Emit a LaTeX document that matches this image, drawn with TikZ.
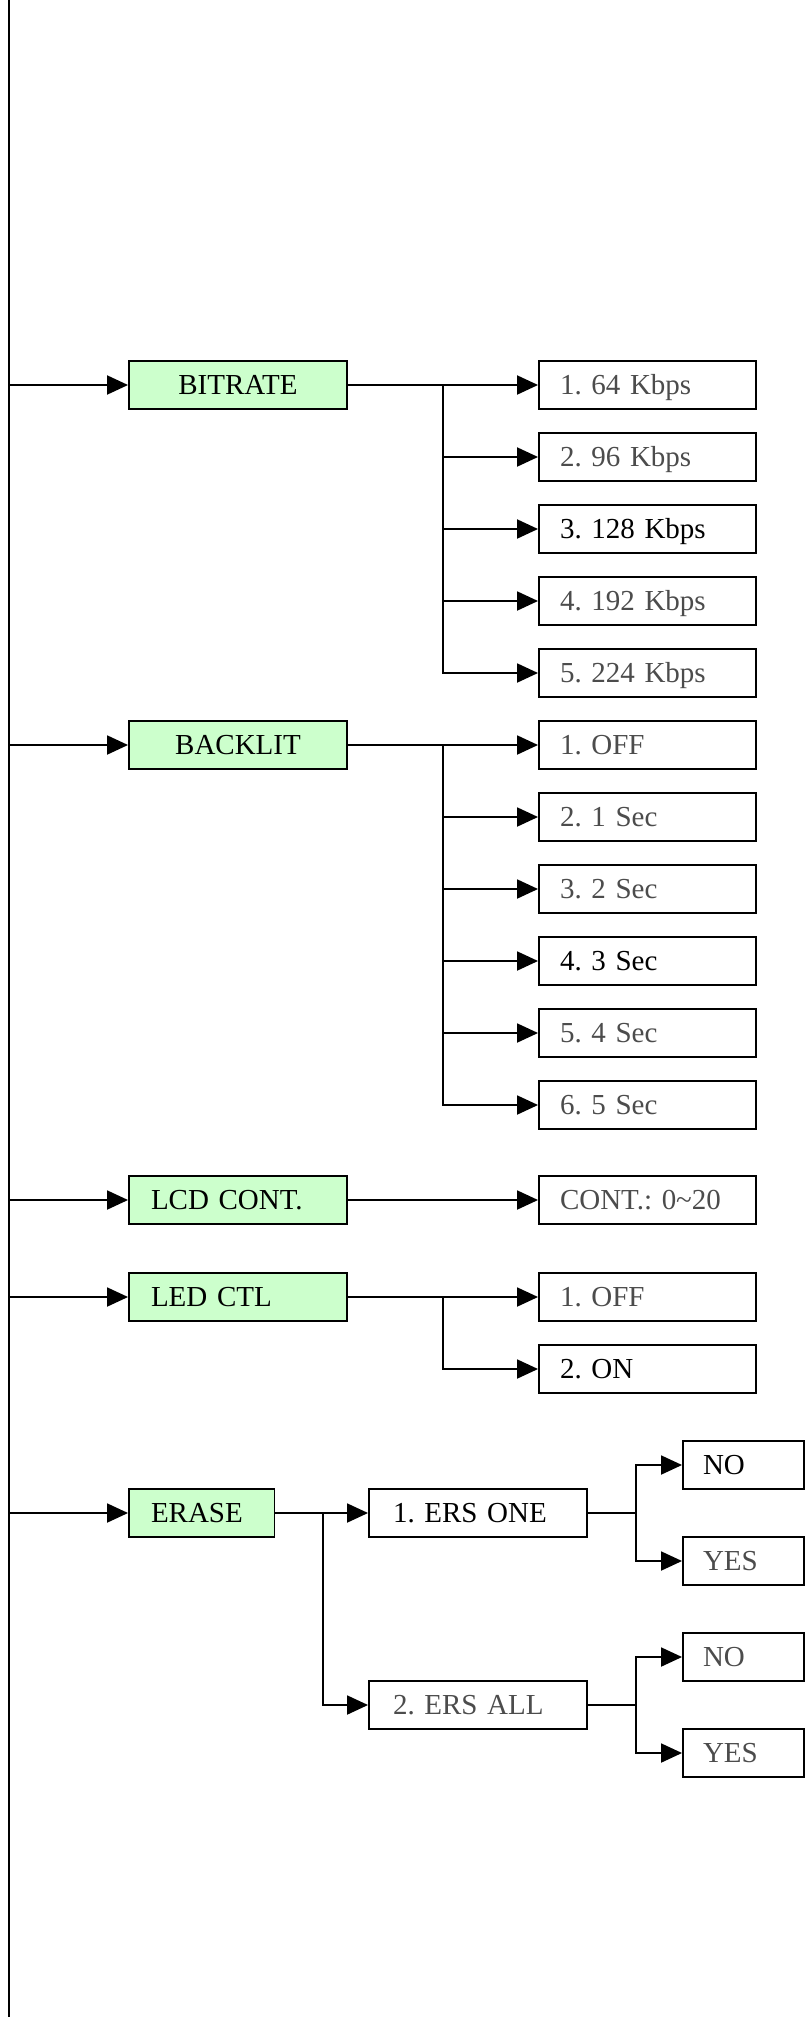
\documentclass[tikz,border=0pt]{standalone}
\usepackage{fontspec}
\setmainfont{Liberation Serif}
\usetikzlibrary{arrows.meta, positioning}
\definecolor{menugreen}{HTML}{CCFFCC}
\frenchspacing

\begin{document}
\begin{tikzpicture}[
  menu/.style={draw, fill=menugreen, line width=1.1pt, minimum height=0.96cm, inner xsep=0.44cm, text width=3.48cm, text height=10.9pt, text depth=0pt, align=left, font=\fontsize{16.5}{18}\selectfont},
  opt/.style={draw, line width=1.1pt, minimum height=0.96cm, inner xsep=0.42cm, text width=3.5cm, text height=10.9pt, text depth=0pt, align=left, text=black!70, font=\fontsize{16.5}{18}\selectfont},
  sel/.style={opt, text=black},
  ers/.style={opt, inner xsep=0.48cm, text width=3.4cm},
  yn/.style={opt, inner xsep=0.4cm, text width=1.62cm},
  wire/.style={line width=1.1pt},
  arr/.style={-{Triangle[length=0.42cm, width=0.38cm]}, line width=1.1pt},
]
\useasboundingbox (0,0) rectangle (16.22,-40.44);

\coordinate (spine) at (0.18,0);
\coordinate (spineend) at (0.18,-40.34);
\draw[wire] (spine) -- (spineend);

\node[menu, align=center] (bitrate) at (4.76,-7.70) {BITRATE};
\node[opt] (bps1) at (12.95,-7.70) {1. 64 Kbps};
\node[opt] (bps2) at (12.95,-9.14) {2. 96 Kbps};
\node[sel] (bps3) at (12.95,-10.58) {3. 128 Kbps};
\node[opt] (bps4) at (12.95,-12.02) {4. 192 Kbps};
\node[opt] (bps5) at (12.95,-13.46) {5. 224 Kbps};

\node[menu, align=center] (backlit) at (4.76,-14.90) {BACKLIT};
\node[opt] (bl1) at (12.95,-14.90) {1. OFF};
\node[opt] (bl2) at (12.95,-16.34) {2. 1 Sec};
\node[opt] (bl3) at (12.95,-17.78) {3. 2 Sec};
\node[sel] (bl4) at (12.95,-19.22) {4. 3 Sec};
\node[opt] (bl5) at (12.95,-20.66) {5. 4 Sec};
\node[opt] (bl6) at (12.95,-22.10) {6. 5 Sec};

\node[menu] (lcd) at (4.76,-24.00) {LCD CONT.};
\node[opt] (cont) at (12.95,-24.00) {CONT.: 0\textasciitilde20};

\node[menu] (led) at (4.76,-25.94) {LED CTL};
\node[opt] (ledoff) at (12.95,-25.94) {1. OFF};
\node[sel] (ledon) at (12.95,-27.38) {2. ON};

\node[menu, text width=2.03cm] (erase) at (4.035,-30.26) {ERASE};
\node[ers, text=black] (ersone) at (9.56,-30.26) {1. ERS ONE};
\node[ers] (ersall) at (9.56,-34.10) {2. ERS ALL};
\node[yn, text=black] (no1) at (14.87,-29.30) {NO};
\node[yn] (yes1) at (14.87,-31.22) {YES};
\node[yn] (no2) at (14.87,-33.14) {NO};
\node[yn] (yes2) at (14.87,-35.06) {YES};

\foreach \m in {bitrate, backlit, lcd, led, erase}
  \draw[arr] (spine |- \m) -- (\m);

\coordinate (jbps) at (8.86,-7.70);
\draw[arr] (bitrate) -- (bps1);
\foreach \s in {bps2, bps3, bps4, bps5}
  \draw[arr] (jbps) |- (\s);

\coordinate (jbl) at (8.86,-14.90);
\draw[arr] (backlit) -- (bl1);
\foreach \s in {bl2, bl3, bl4, bl5, bl6}
  \draw[arr] (jbl) |- (\s);

\draw[arr] (lcd) -- (cont);

\coordinate (jled) at (8.86,-25.94);
\draw[arr] (led) -- (ledoff);
\draw[arr] (jled) |- (ledon);

\coordinate (jers) at (6.46,-30.26);
\draw[arr] (erase) -- (ersone);
\draw[arr] (jers) |- (ersall);

\coordinate (jone) at (12.72,-30.26);
\draw[wire] (ersone) -- (jone);
\draw[arr] (jone) |- (no1);
\draw[arr] (jone) |- (yes1);

\coordinate (jall) at (12.72,-34.10);
\draw[wire] (ersall) -- (jall);
\draw[arr] (jall) |- (no2);
\draw[arr] (jall) |- (yes2);

\end{tikzpicture}
\end{document}
